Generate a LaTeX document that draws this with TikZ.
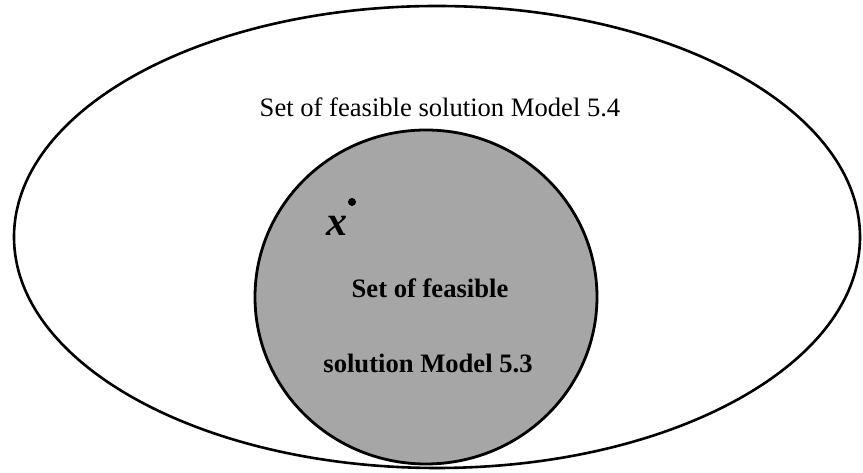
\documentclass[tikz,border=0pt]{standalone}
\usepackage{fontspec}
\setmainfont{Liberation Serif}
\begin{document}
\begin{tikzpicture}[x=1pt,y=1pt,
  outerset/.style={draw=black,line width=2.6pt},
  innerset/.style={draw=black,line width=2.8pt,fill=black!35},
  lbl/.style={anchor=base,inner sep=0pt,font=\fontsize{26.6}{30}\selectfont},
  blbl/.style={anchor=base,inner sep=0pt,font=\fontsize{26.6}{30}\selectfont\bfseries}]
\useasboundingbox (0,0) rectangle (863,473);
\draw[outerset] (437,236) ellipse [x radius=423, y radius=231];
\draw[innerset] (426,176) ellipse [x radius=171, y radius=167];
\node[lbl] (outer) at (440,356) {Set of feasible solution Model 5.4};
\node[blbl] (in1) at (430,175) {Set of feasible};
\node[blbl] (in2) at (428,100) {solution Model 5.3};
\node[anchor=base,inner sep=0pt,font=\fontsize{42}{44}\selectfont\bfseries\itshape] (x) at (337,237) {x};
\fill[black] (352,271) circle [radius=4] coordinate (star);
\end{tikzpicture}
\end{document}
